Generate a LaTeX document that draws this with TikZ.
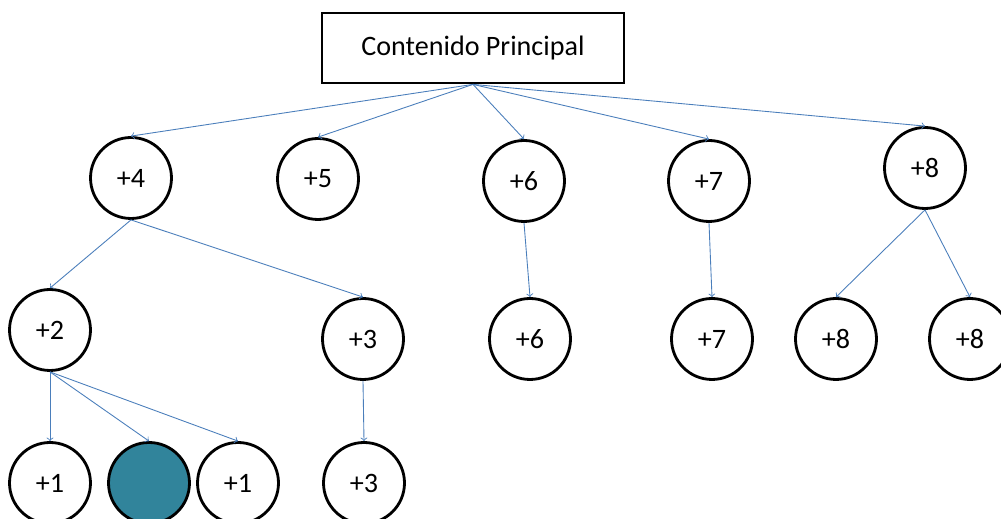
\documentclass[tikz,border=0pt]{standalone}
\usepackage{fontspec}
\setmainfont{Carlito}
\usepackage{tikz}
\definecolor{linkblue}{HTML}{4A7EBB}
\definecolor{tealfill}{HTML}{31849B}
\tikzset{circ/.style={draw, circle, line width=1.6pt, minimum size=1.62cm, inner sep=0pt, font=\fontsize{16}{18}\selectfont},
         link/.style={draw=linkblue, ->, line width=0.5pt}}

\begin{document}
\begin{tikzpicture}[x=0.02cm, y=-0.02cm]
    \useasboundingbox (0,0) rectangle (1001,519);

    \coordinate (M) at (473, 48);

    \coordinate (A4) at (131, 178);
    \coordinate (A5) at (318, 179);
    \coordinate (A6) at (524, 181);
    \coordinate (A7) at (709, 181);
    \coordinate (A8) at (925, 168);

    \coordinate (B2) at (50, 330);
    \coordinate (B3) at (363, 339);
    \coordinate (B6) at (530, 339);
    \coordinate (B7) at (712, 339);
    \coordinate (B8) at (836, 339);
    \coordinate (B9) at (970, 339);

    \coordinate (C0) at (50, 483);
    \coordinate (C1) at (149, 483);
    \coordinate (C2) at (238, 483);
    \coordinate (C3) at (364, 483);

    \node [draw, line width=1.6pt, minimum width=6.04cm, minimum height=1.4cm, font=\fontsize{16}{18}\selectfont] (main) at (M) {Contenido Principal};

    \node [circ] (n4) at (A4) {+4};
    \node [circ] (n5) at (A5) {+5};
    \node [circ] (n6) at (A6) {+6};
    \node [circ] (n7) at (A7) {+7};
    \node [circ] (n8) at (A8) {+8};

    \node [circ] (m2) at (B2) {+2};
    \node [circ] (m3) at (B3) {+3};
    \node [circ] (m6) at (B6) {+6};
    \node [circ] (m7) at (B7) {+7};
    \node [circ] (m8) at (B8) {+8};
    \node [circ] (m9) at (B9) {+8};

    \node [circ] (l1) at (C0) {+1};
    \node [circ, fill=tealfill] (l2) at (C1) {};
    \node [circ] (l3) at (C2) {+1};
    \node [circ] (l4) at (C3) {+3};

    \draw[link] (main.south) -- (n4.north);
    \draw[link] (main.south) -- (n5.north);
    \draw[link] (main.south) -- (n6.north);
    \draw[link] (main.south) -- (n7.north);
    \draw[link] (main.south) -- (n8.north);

    \draw[link] (n4.south) -- (m2.north);
    \draw[link] (n4.south) -- (m3.north);
    \draw[link] (n6.south) -- (m6.north);
    \draw[link] (n7.south) -- (m7.north);
    \draw[link] (n8.south) -- (m8.north);
    \draw[link] (n8.south) -- (m9.north);

    \draw[link] (m2.south) -- (l1.north);
    \draw[link] (m2.south) -- (l2.north);
    \draw[link] (m2.south) -- (l3.north);
    \draw[link] (m3.south) -- (l4.north);
\end{tikzpicture}
\end{document}
